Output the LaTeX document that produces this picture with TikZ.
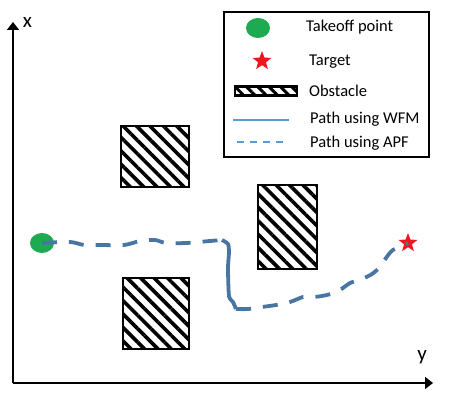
\documentclass[tikz,border=0pt]{standalone}
\usepackage{fontspec}
\setmainfont{Carlito}
\usetikzlibrary{shapes.geometric,patterns.meta,arrows.meta,positioning}

% Colours
\definecolor{pathblue}{RGB}{72,118,160}   % drawn paths
\definecolor{legendblue}{RGB}{91,155,213} % legend lines
\definecolor{takeoffgreen}{RGB}{29,170,80}
\definecolor{targetred}{RGB}{240,22,32}

\tikzset{
  axis/.style={line width=1.7pt,-{Triangle[length=8pt,width=12pt]}},
  obstacle/.style={draw,line width=2.2pt,inner sep=0pt,
    pattern={Lines[angle=-45,distance=9.5pt,line width=3.6pt]}},
  takeoffpt/.style={ellipse,fill=takeoffgreen,minimum width=24pt,minimum height=20pt,inner sep=0pt},
  targetpt/.style={star,star points=5,star point ratio=2.4,fill=targetred,minimum size=20pt,inner sep=0pt},
  apf/.style={pathblue,line width=3.8pt,dash pattern=on 15pt off 12pt,line join=round},
  wfm/.style={pathblue,line width=3.8pt,line join=round},
  legtext/.style={anchor=west,inner sep=0pt,font=\fontsize{16.5}{19}\selectfont},
  axlabel/.style={inner sep=0pt,font=\fontsize{21}{24}\selectfont},
}

\begin{document}
\begin{tikzpicture}[x=1pt,y=-1pt]
\useasboundingbox (0,0) rectangle (458,406);

% Axes
\coordinate (origin) at (13,383);
\coordinate (xtip) at (13,22);
\coordinate (ytip) at (433,383);
\draw[axis] (origin) -- (xtip);
\draw[axis] (origin) -- (ytip);
\node[axlabel] (xlab) at (27.5,22) {x};
\node[axlabel] (ylab) at (422,357) {y};

% Obstacles
\node[obstacle,minimum width=68pt,minimum height=61pt] (obsA) at (155,156.5) {};
\node[obstacle,minimum width=59pt,minimum height=84pt] (obsB) at (287.5,227) {};
\node[obstacle,minimum width=66pt,minimum height=71pt] (obsC) at (156,313.5) {};

% Start and goal
\node[takeoffpt] (takeoff) at (42,243) {};
\node[targetpt] (target) at (408,243) {};

% Path
\coordinate (turnA) at (222,240);
\coordinate (turnB) at (236,309);
\draw[apf] plot[smooth,tension=0.5] coordinates {(takeoff.center) (70,242) (84,245)
  (100,245) (124,245) (140,241) (155,240) (166,243) (186,243) (210,241) (turnA)};
\draw[wfm] plot[smooth,tension=0.4] coordinates {(turnA) (228,244) (229,252)
  (228,268) (229,296) (233,302) (turnB)};
\draw[apf] plot[smooth,tension=0.5] coordinates {(turnB) (248,309) (262,307)
  (276,305) (290,302) (303,297) (312,297) (322,296) (334,293) (343,288) (350,283)
  (362,279) (372,274) (380,267) (386,258) (393,250) (target.center)};

% Legend
\draw[line width=2pt] (224,12) rectangle (429,157);
\node[takeoffpt] (legtakeoff) at (258,28) {};
\node[legtext] (txtakeoff) at (306,27) {Takeoff point};
\node[targetpt] (legtarget) at (262,61) {};
\node[legtext] (txtarget) at (309,62) {Target};
\node[obstacle,line width=2.5pt,minimum width=62pt,minimum height=9pt,
  pattern={Lines[angle=-45,distance=8pt,line width=3pt]}] (legobs) at (266,91) {};
\node[legtext] (txobs) at (309,91) {Obstacle};
\coordinate (wfmL) at (233,120);
\coordinate (wfmR) at (289,120);
\draw[legendblue,line width=1.8pt] (wfmL) -- (wfmR);
\node[legtext] (txwfm) at (310,119) {Path using WFM};
\coordinate (apfL) at (237,142);
\coordinate (apfR) at (288,142);
\draw[legendblue,line width=1.8pt,dash pattern=on 7pt off 6pt] (apfL) -- (apfR);
\node[legtext] (txapf) at (310,143) {Path using APF};

\end{tikzpicture}
\end{document}
